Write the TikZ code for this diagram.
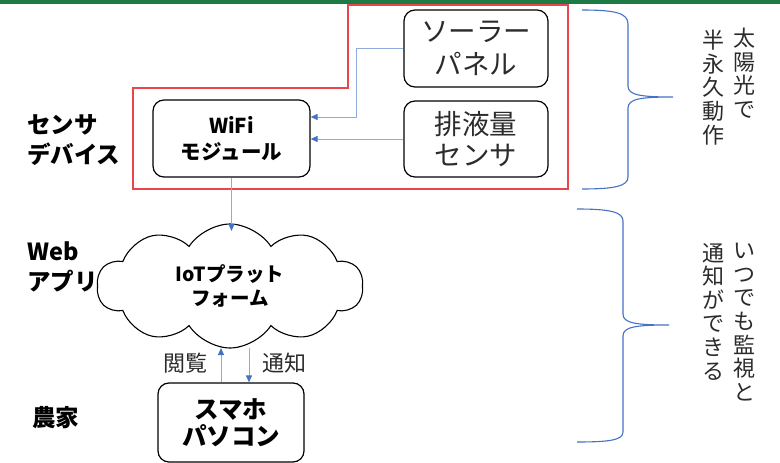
\documentclass[tikz,border=0pt]{standalone}
\usepackage{fontspec}
\setmainfont{Noto Sans CJK JP}
\usetikzlibrary{shapes.symbols,arrows.meta,calc}
\definecolor{lineblue}{HTML}{8FAADC}
\definecolor{tipblue}{HTML}{4472C4}
\definecolor{bracecol}{HTML}{4472C4}
\definecolor{redline}{HTML}{E8454D}
\definecolor{topgreen}{HTML}{1E7A45}
\definecolor{txtgray}{HTML}{2B2B2B}
\begin{document}
\begin{tikzpicture}[x=1pt,y=-1pt,
  box/.style={draw=black,line width=1.2pt,rounded corners=11pt,align=center,inner sep=0pt},
  conn/.style={draw=lineblue,line width=1pt,-{Triangle[length=7pt,width=6pt,color=tipblue]}},
  brace/.style={draw=bracecol,line width=1.1pt},
  side/.style={font=\bfseries\fontsize{23.5}{30}\selectfont,align=left,anchor=west,inner sep=0pt},
  vtext/.style={font=\fontsize{22}{23.6}\selectfont,text=txtgray,align=center,anchor=north,inner sep=0pt},
  lab/.style={font=\fontsize{22}{24}\selectfont,text=txtgray,inner sep=0pt}]
\useasboundingbox (0,0) rectangle (780,463);
\fill[topgreen] (0,0) rectangle (780,3.5);
% red outline
\draw[redline,line width=1.3pt] (348,5) -- (568,5) -- (568,189) -- (133,189) -- (133,88) -- (348,88) -- cycle;
% boxes
\node[box,minimum width=144pt,minimum height=77pt,font=\fontsize{27.5}{33}\selectfont,text=txtgray] (solar) at (476,48.5) {ソーラー\\パネル};
\node[box,minimum width=144pt,minimum height=76pt,font=\fontsize{27.5}{31}\selectfont,text=txtgray] (sensor) at (476,139) {排液量\\センサ};
\node[box,minimum width=157pt,minimum height=77pt,font=\bfseries\fontsize{20.5}{26}\selectfont] (wifi) at (231.5,138.5) {WiFi\\モジュール};
\node[box,minimum width=146pt,minimum height=79pt,font=\bfseries\fontsize{24.5}{27.5}\selectfont] (phone) at (231,422.5) {スマホ\\パソコン};
\node[cloud,draw=black,line width=1.1pt,cloud puffs=10,cloud puff arc=115,cloud ignores aspect,minimum width=266pt,minimum height=124pt,inner sep=0pt,align=center,font=\bfseries\fontsize{19.5}{24}\selectfont] (cloud) at (230,286) {IoTプラット\\フォーム};
% connectors
\draw[conn] (solar.west) -- ++(-47,0) |- ($(wifi.east)+(0,-21.5)$);
\draw[conn] (sensor.west) -- (sensor.west -| wifi.east);
\coordinate (cloudTop) at (232,231);
\draw[conn] (wifi.south) -- (wifi.south |- cloudTop);
\coordinate (upS) at ($(phone.north)+(-10,0)$);
\coordinate (dnS) at ($(phone.north)+(18,0)$);
\coordinate (cloudBot) at (232,348);
\draw[conn] (upS) -- (upS |- cloudBot);
\draw[conn] (dnS |- cloudBot) -- (dnS);
\node[lab] (view) at (185,363) {閲覧};
\node[lab] (notify) at (284,363) {通知};
% side labels
\node[side] (sdev) at (27,140) {センサ\\デバイス};
\node[side] (web) at (27,267) {Web\\アプリ};
\node[side] (farmer) at (32,418) {農家};
% braces
\draw[brace] (582,10) .. controls (615,10) and (628,13) .. (628,24) -- (628,86) .. controls (628,95) and (640,97) .. (673,97) .. controls (640,97) and (628,99) .. (628,108) -- (628,177) .. controls (628,186) and (615,189) .. (582,189);
\draw[brace] (577,209) .. controls (610,209) and (623,212) .. (623,221) -- (623,314) .. controls (623,323) and (635,325) .. (669,325) .. controls (635,325) and (623,327) .. (623,336) -- (623,432) .. controls (623,440) and (610,442) .. (577,442);
% vertical texts
\node[vtext] (v1) at (744,28) {太\\陽\\光\\で};
\node[vtext] (v2) at (713,30) {半\\永\\久\\動\\作};
\node[vtext] (v3) at (744,243) {い\\つ\\で\\も\\監\\視\\と};
\node[vtext] (v4) at (713,243) {通\\知\\が\\で\\き\\る};
\end{tikzpicture}
\end{document}
